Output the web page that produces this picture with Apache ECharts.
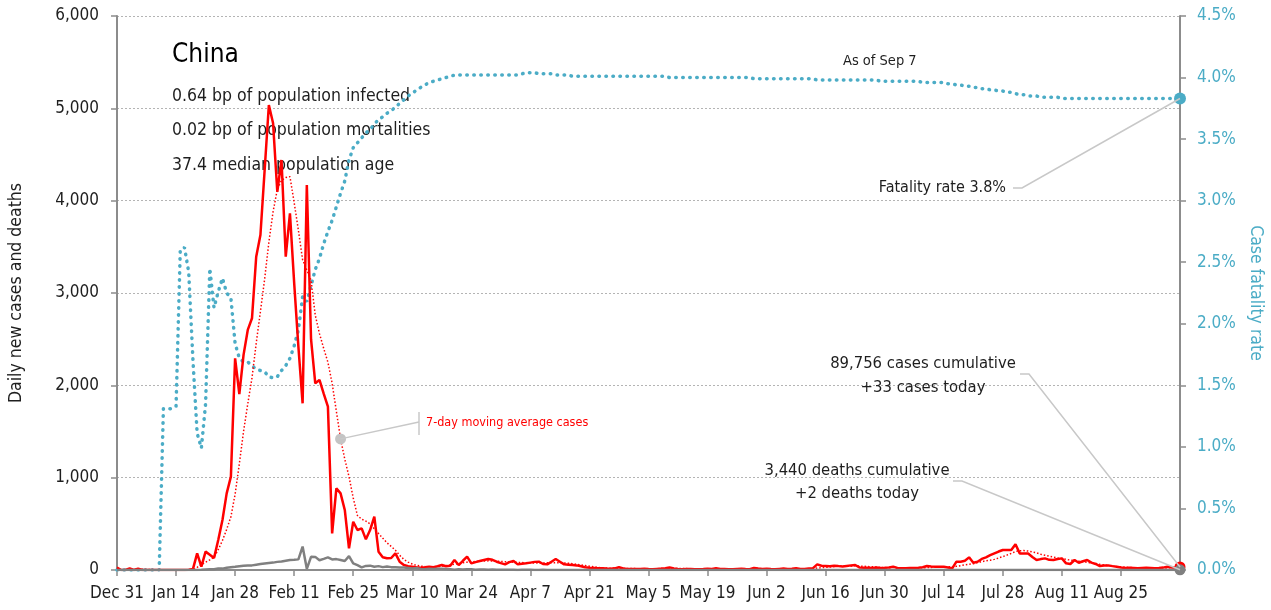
<!DOCTYPE html>
<html style="height: 100%">
<head>
    <meta charset="utf-8" />
    <title>China</title>
    <script src="https://cdn.jsdelivr.net/npm/echarts@6/dist/echarts.min.js"></script>
</head>
<body style="height: 100%; margin: 0; overflow: hidden; background: #fff">
    <div id="container" style="width: 1271px; height: 610px"></div>
    <script>
        // tick labels, one every 14 days starting Dec 31
        var xTickLabels = ["Dec 31", "Jan 14", "Jan 28", "Feb 11", "Feb 25", "Mar 10", "Mar 24", "Apr 7", "Apr 21",
            "May 5", "May 19", "Jun 2", "Jun 16", "Jun 30", "Jul 14", "Jul 28", "Aug 11", "Aug 25"];

        // daily new cases, Dec 31 onwards (one row = 10 days)
        var dailyCases = [
            27, 0, 0, 17, 0, 15, 0, 0, 0, 0,
            0, 0, 0, 0, 0, 0, 0, 4, 10, 180,
            36, 199, 166, 130, 325, 541, 830, 1011, 2293, 1906,
            2330, 2600, 2726, 3393, 3628, 4330, 5036, 4838, 4097, 4440,
            3393, 3863, 3110, 2420, 1805, 4170, 2500, 2022, 2058, 1910,
            1769, 397, 885, 830, 650, 235, 523, 433, 451, 332,
            433, 577, 198, 139, 128, 130, 180, 90, 54, 40,
            36, 29, 25, 30, 36, 29, 40, 54, 40, 45,
            108, 54, 100, 144, 72, 85, 97, 108, 119, 110,
            90, 75, 61, 85, 97, 61, 68, 72, 80, 88,
            90, 65, 61, 90, 119, 90, 61, 58, 54, 50,
            40, 29, 25, 22, 18, 20, 16, 14, 18, 30,
            16, 12, 11, 10, 12, 14, 10, 8, 12, 15,
            20, 28, 16, 10, 8, 11, 12, 9, 7, 10,
            14, 12, 18, 10, 11, 8, 9, 12, 14, 10,
            8, 22, 16, 12, 14, 10, 9, 12, 15, 11,
            14, 18, 12, 10, 15, 20, 61, 46, 43, 40,
            45, 42, 38, 44, 50, 54, 28, 25, 24, 22,
            26, 22, 24, 28, 36, 22, 20, 18, 21, 22,
            25, 30, 43, 38, 36, 34, 36, 28, 18, 90,
            90, 100, 137, 79, 90, 120, 137, 160, 180, 200,
            217, 217, 217, 278, 180, 180, 178, 140, 108, 118,
            126, 110, 108, 120, 126, 72, 65, 108, 79, 95,
            108, 80, 65, 43, 48, 50, 42, 36, 28, 22,
            24, 22, 20, 22, 24, 22, 20, 22, 26, 36,
            28, 30, 33
        ];

        // 7-day moving average of cases
        var avgCases = [
            4, 4, 4, 6, 6, 8, 8, 5, 5, 2,
            2, 0, 0, 0, 0, 0, 0, 1, 2, 28,
            60, 85, 110, 140, 220, 320, 440, 577, 820, 1150,
            1500, 1800, 2080, 2455, 2800, 3150, 3550, 3880, 4120, 4220,
            4250, 4260, 3980, 3680, 3360, 3250, 3140, 2760, 2560, 2400,
            2250, 2022, 1720, 1420, 1200, 1011, 780, 590, 550, 530,
            500, 445, 395, 345, 295, 255, 215, 160, 115, 85,
            65, 50, 42, 37, 34, 34, 36, 40, 46, 54,
            62, 70, 78, 85, 89, 92, 95, 97, 99, 98,
            96, 93, 90, 87, 85, 82, 80, 78, 77, 76,
            76, 77, 78, 79, 80, 79, 76, 73, 68, 62,
            55, 48, 41, 34, 28, 24, 21, 19, 18, 19,
            18, 17, 16, 15, 13, 12, 11, 11, 11, 12,
            14, 15, 16, 16, 15, 15, 13, 11, 10, 10,
            10, 11, 12, 12, 12, 11, 11, 11, 11, 11,
            11, 13, 13, 13, 13, 13, 13, 13, 13, 12,
            12, 13, 13, 13, 14, 15, 21, 25, 29, 33,
            37, 42, 43, 43, 44, 45, 42, 40, 37, 35,
            32, 28, 24, 24, 26, 25, 25, 24, 24, 24,
            24, 23, 26, 28, 31, 33, 35, 36, 33, 40,
            47, 55, 62, 68, 80, 90, 100, 105, 115, 130,
            145, 162, 180, 200, 209, 210, 205, 195, 185, 170,
            160, 150, 140, 130, 122, 115, 108, 102, 96, 90,
            84, 76, 70, 62, 55, 48, 42, 37, 33, 30,
            27, 25, 23, 22, 21, 21, 20, 20, 21, 23,
            24, 25, 26
        ];

        // daily new deaths
        var dailyDeaths = [
            0, 0, 0, 0, 0, 0, 0, 0, 0, 0,
            0, 1, 0, 0, 0, 0, 0, 1, 0, 1,
            3, 6, 9, 8, 16, 15, 24, 30, 34, 40,
            46, 48, 50, 57, 64, 70, 75, 80, 88, 92,
            100, 108, 110, 115, 254, 13, 143, 142, 105, 120,
            136, 114, 118, 109, 97, 150, 71, 52, 29, 44,
            47, 35, 42, 31, 38, 31, 30, 28, 27, 22,
            17, 22, 11, 7, 13, 10, 14, 13, 11, 8,
            3, 7, 6, 9, 7, 4, 6, 5, 3, 5,
            4, 4, 3, 3, 3, 1, 2, 3, 2, 1,
            1, 2, 1, 1, 1, 0, 0, 1, 0, 0,
            0, 0, 0, 0, 0, 0, 0, 0, 0, 0,
            0, 0, 0, 0, 0, 0, 0, 0, 0, 0,
            0, 0, 0, 0, 0, 0, 0, 0, 0, 0,
            0, 0, 0, 0, 0, 0, 0, 0, 0, 0,
            0, 0, 0, 0, 0, 0, 0, 0, 0, 0,
            0, 0, 0, 0, 0, 0, 0, 0, 0, 0,
            0, 0, 0, 0, 0, 0, 0, 0, 0, 0,
            0, 0, 0, 0, 0, 0, 0, 0, 0, 0,
            0, 0, 0, 0, 0, 0, 0, 0, 0, 0,
            0, 0, 0, 0, 0, 0, 0, 0, 0, 0,
            0, 0, 0, 0, 0, 0, 0, 0, 0, 0,
            0, 0, 0, 0, 0, 0, 0, 0, 0, 0,
            0, 0, 0, 0, 0, 0, 0, 0, 0, 0,
            0, 0, 0, 0, 0, 0, 0, 0, 0, 0,
            0, 0, 2
        ];

        // case fatality rate, %
        var fatalityRate = [
            0, 0, 0, 0, 0, 0, 0, 0, 0, 0,
            0, 1.31, 1.31, 1.31, 1.33, 2.60, 2.62, 2.42, 1.71, 1.11,
            0.99, 1.35, 2.45, 2.13, 2.26, 2.37, 2.25, 2.21, 1.84, 1.72,
            1.69, 1.69, 1.66, 1.63, 1.62, 1.61, 1.57, 1.56, 1.57, 1.62,
            1.66, 1.72, 1.82, 1.95, 2.22, 2.18, 2.31, 2.44, 2.53, 2.65,
            2.75, 2.84, 2.95, 3.06, 3.16, 3.33, 3.43, 3.47, 3.51, 3.55,
            3.58, 3.62, 3.66, 3.68, 3.71, 3.73, 3.76, 3.79, 3.82, 3.85,
            3.87, 3.90, 3.92, 3.94, 3.96, 3.97, 3.98, 3.99, 4.00, 4.01,
            4.02, 4.02, 4.02, 4.02, 4.02, 4.02, 4.02, 4.02, 4.02, 4.02,
            4.02, 4.02, 4.02, 4.02, 4.02, 4.02, 4.03, 4.04, 4.04, 4.04,
            4.03, 4.03, 4.03, 4.03, 4.02, 4.02, 4.02, 4.02, 4.01, 4.01,
            4.01, 4.01, 4.01, 4.01, 4.01, 4.01, 4.01, 4.01, 4.01, 4.01,
            4.01, 4.01, 4.01, 4.01, 4.01, 4.01, 4.01, 4.01, 4.01, 4.01,
            4.01, 4.00, 4.00, 4.00, 4.00, 4.00, 4.00, 4.00, 4.00, 4.00,
            4.00, 4.00, 4.00, 4.00, 4.00, 4.00, 4.00, 4.00, 4.00, 4.00,
            4.00, 3.99, 3.99, 3.99, 3.99, 3.99, 3.99, 3.99, 3.99, 3.99,
            3.99, 3.99, 3.99, 3.99, 3.99, 3.99, 3.98, 3.98, 3.98, 3.98,
            3.98, 3.98, 3.98, 3.98, 3.98, 3.98, 3.98, 3.98, 3.98, 3.98,
            3.98, 3.97, 3.97, 3.97, 3.97, 3.97, 3.97, 3.97, 3.97, 3.97,
            3.97, 3.96, 3.96, 3.96, 3.96, 3.96, 3.96, 3.95, 3.95, 3.94,
            3.94, 3.93, 3.93, 3.92, 3.92, 3.91, 3.91, 3.90, 3.90, 3.89,
            3.89, 3.88, 3.88, 3.87, 3.86, 3.86, 3.85, 3.85, 3.85, 3.84,
            3.84, 3.84, 3.84, 3.84, 3.83, 3.83, 3.83, 3.83, 3.83, 3.83,
            3.83, 3.83, 3.83, 3.83, 3.83, 3.83, 3.83, 3.83, 3.83, 3.83,
            3.83, 3.83, 3.83, 3.83, 3.83, 3.83, 3.83, 3.83, 3.83, 3.83,
            3.83, 3.83, 3.83
        ];

        var FONT = "'DejaVu Sans Condensed', 'Liberation Sans Narrow', Roboto, sans-serif";
        var TEAL = "#4bacc6";
        var RED = "#ff0000";
        var GREY = "#808080";
        var INK = "#1e1e1e";
        var LEADER = "#c8c8c8";
        var markerDay = 53; // where the moving average label points

        var days = dailyCases.map(function (v, i) { return String(i); });
        var last = days.length - 1;
        var onTick = function (index) { return index % 14 === 0 && index < last; };

        var dom = document.getElementById("container");
        var myChart = echarts.init(dom, null, { renderer: "canvas" });

        var option = {
            animation: false,
            grid: { left: 117, right: 91, top: 16, bottom: 40, outerBoundsMode: "none", containLabel: false },
            xAxis: {
                type: "category",
                data: days,
                boundaryGap: false,
                axisLine: { lineStyle: { color: "#8c8c8c", width: 2 } },
                axisTick: { interval: onTick, length: 6, lineStyle: { color: "#8c8c8c", width: 1.5 } },
                axisLabel: {
                    interval: onTick, hideOverlap: false,
                    formatter: function (v, i) { return xTickLabels[i / 14]; },
                    color: INK, fontSize: 17, fontFamily: FONT, margin: 15
                },
                splitLine: { show: false }
            },
            yAxis: [
                {
                    type: "value", min: 0, max: 6000, interval: 1000,
                    name: "Daily new cases and deaths",
                    nameLocation: "middle", nameGap: 92,
                    nameTextStyle: { color: INK, fontSize: 17.5, fontFamily: FONT },
                    axisLine: { show: true, lineStyle: { color: "#8c8c8c", width: 2 } },
                    axisTick: { show: true, length: 6, lineStyle: { color: "#8c8c8c", width: 1.5 } },
                    axisLabel: {
                        color: INK, fontSize: 17, fontFamily: FONT, margin: 18,
                        formatter: function (v) { return v.toLocaleString("en-US"); }
                    },
                    splitLine: { lineStyle: { color: "#b4b4b4", type: [2, 2], width: 1 } }
                },
                {
                    type: "value", min: 0, max: 4.5, interval: 0.5, position: "right",
                    name: "Case fatality rate",
                    nameLocation: "middle", nameGap: 62, nameRotate: -90,
                    nameTextStyle: { color: TEAL, fontSize: 17.5, fontFamily: FONT },
                    axisLine: { show: true, lineStyle: { color: "#8c8c8c", width: 2 } },
                    axisTick: { show: true, length: 6, lineStyle: { color: "#8c8c8c", width: 1.5 } },
                    axisLabel: {
                        color: TEAL, fontSize: 17, fontFamily: FONT, margin: 17,
                        formatter: function (v) { return v.toFixed(1) + "%"; }
                    },
                    splitLine: { show: false }
                }
            ],
            series: [
                {
                    name: "Case fatality rate", type: "line", yAxisIndex: 1,
                    data: fatalityRate, showSymbol: false,
                    lineStyle: { color: TEAL, width: 3.5, type: [0.5, 6.5], cap: "round" },
                    markPoint: {
                        symbol: "circle", symbolSize: 12, label: { show: false },
                        itemStyle: { color: TEAL },
                        data: [{ coord: [days[last], fatalityRate[last]] }]
                    }
                },
                {
                    name: "7-day moving average cases", type: "line",
                    data: avgCases, showSymbol: false,
                    lineStyle: { color: RED, width: 1.5, type: [1.5, 2] },
                    markPoint: {
                        symbol: "circle", symbolSize: 11, label: { show: false },
                        itemStyle: { color: "#c4c4c4" },
                        data: [{ coord: [days[markerDay], avgCases[markerDay]] }]
                    }
                },
                {
                    name: "Daily new cases", type: "line",
                    data: dailyCases, showSymbol: false,
                    lineStyle: { color: RED, width: 2.5 },
                    markPoint: {
                        symbol: "circle", symbolSize: 11, label: { show: false },
                        itemStyle: { color: RED },
                        data: [{ coord: [days[last], dailyCases[last]] }]
                    }
                },
                {
                    name: "Daily new deaths", type: "line",
                    data: dailyDeaths, showSymbol: false,
                    lineStyle: { color: GREY, width: 2.5 },
                    markPoint: {
                        symbol: "circle", symbolSize: 11, label: { show: false },
                        itemStyle: { color: GREY },
                        data: [{ coord: [days[last], dailyDeaths[last]] }]
                    }
                }
            ]
        };
        myChart.setOption(option);

        // leader lines end on the data points, so ask the chart where they are
        var px = function (i, v, axis) {
            return myChart.convertToPixel({ xAxisIndex: 0, yAxisIndex: axis }, [days[i], v]);
        };
        var cfrEnd = px(last, fatalityRate[last], 1);
        var casesEnd = px(last, dailyCases[last], 0);
        var deathsEnd = px(last, dailyDeaths[last], 0);
        var avgPt = px(markerDay, avgCases[markerDay], 0);

        var txt = function (x, y, text, size, align, color) {
            return {
                type: "text", x: x, y: y, silent: true,
                style: {
                    text: text, fill: color || INK, fontSize: size, fontFamily: FONT,
                    align: align || "left", verticalAlign: "middle"
                }
            };
        };
        var leader = function (points) {
            return {
                type: "polyline", silent: true, z: 5,
                shape: { points: points },
                style: { stroke: LEADER, lineWidth: 1.5, fill: null }
            };
        };

        myChart.setOption({
            graphic: [
                txt(172, 55, "China", 26, "left", "#000"),
                txt(172, 96, "0.64 bp of population infected", 17.5),
                txt(172, 130, "0.02 bp of population mortalities", 17.5),
                txt(172, 165, "37.4 median population age", 17.5),
                txt(843, 61, "As of Sep 7", 14.5),
                txt(1006, 188, "Fatality rate 3.8%", 16, "right"),
                leader([[1013, 188], [1022, 188], cfrEnd]),
                txt(923, 364, "89,756 cases cumulative", 16.5, "center"),
                txt(923, 388, "+33 cases today", 16.5, "center"),
                leader([[1020, 374], [1029, 374], casesEnd]),
                txt(857, 471, "3,440 deaths cumulative", 16.5, "center"),
                txt(857, 494, "+2 deaths today", 16.5, "center"),
                leader([[953, 481], [962, 481], deathsEnd]),
                txt(426, 423, "7-day moving average cases", 12.5, "left", RED),
                leader([[419, 422], avgPt]),
                leader([[419, 412], [419, 435]])
            ]
        });
    </script>
</body>
</html>
